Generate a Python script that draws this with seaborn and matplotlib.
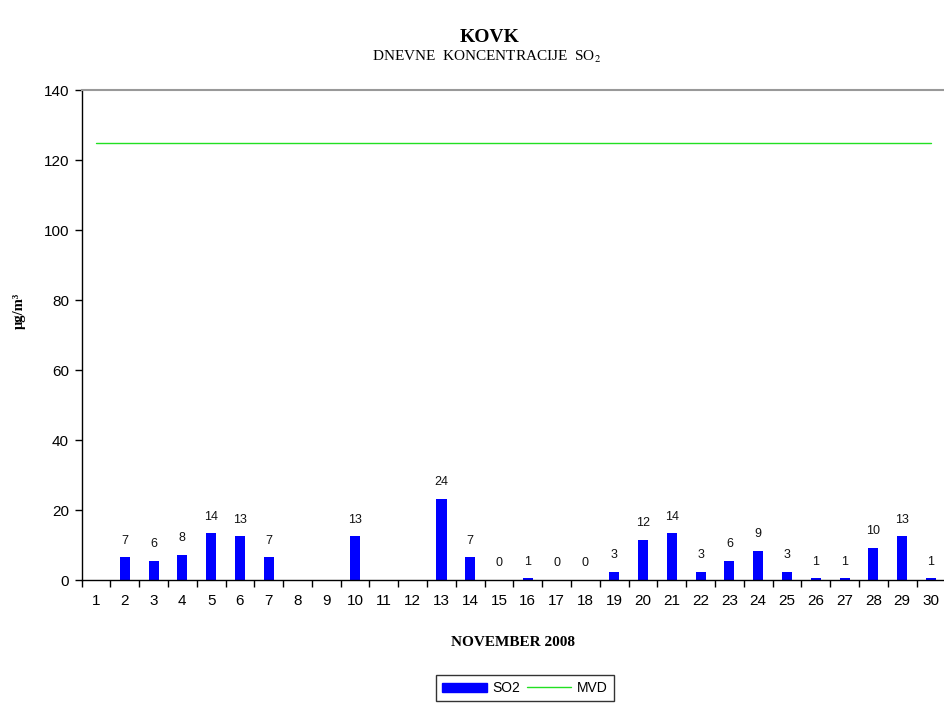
import numpy as np
import pandas as pd
import matplotlib
matplotlib.use("Agg")
import matplotlib.pyplot as plt
import seaborn as sns
from matplotlib.patches import Patch
from matplotlib.lines import Line2D

days = [str(d) for d in range(1, 31)]
so2 = [np.nan, 6.5, 5.5, 7.3, 13.4, 12.5, 6.5, np.nan, np.nan, 12.5,
       np.nan, np.nan, 23.3, 6.5, 0.0, 0.5, 0.0, 0.0, 2.3, 11.5,
       13.4, 2.3, 5.5, 8.3, 2.3, 0.5, 0.5, 9.2, 12.5, 0.5]
bar_labels = ["", "7", "6", "8", "14", "13", "7", "", "", "13",
              "", "", "24", "7", "0", "1", "0", "0", "3", "12",
              "14", "3", "6", "9", "3", "1", "1", "10", "13", "1"]
mvd_value = 125
mvd = [mvd_value] * len(days)
yticks = [0, 20, 40, 60, 80, 100, 120, 140]

sns.set_theme(style="white")
plt.rcParams['font.family'] = ['Liberation Sans', 'DejaVu Sans']
plt.rcParams['mathtext.fontset'] = 'stix'
plt.rcParams['text.color'] = 'black'
plt.rcParams['axes.labelcolor'] = 'black'
plt.rcParams['xtick.color'] = 'black'
plt.rcParams['ytick.color'] = 'black'

fig = plt.figure(figsize=(9.44, 7.04), dpi=100)
ax = fig.add_axes([0.0864, 0.176, 0.915, 0.696])

df = pd.DataFrame({"day": days, "SO2": so2})
sns.barplot(data=df, x="day", y="SO2", order=days, color="#0000FF",
            saturation=1, width=0.35, ax=ax, edgecolor="#0000FF", linewidth=0)
ax.plot(range(len(days)), mvd, color="#22E022", lw=1.0)

for i, (v, t) in enumerate(zip(so2, bar_labels)):
    if t:
        base = 0 if np.isnan(v) else v
        ax.annotate(t, (i, base), xytext=(0, 12), textcoords="offset points",
                    ha="center", va="center", fontsize=9, color="#111111")

ax.set_xlim(-0.5, 29.5)
ax.set_ylim(0, 140)
ax.set_yticks(yticks)
ax.set_yticklabels([str(y) for y in yticks], fontsize=11)
ax.set_xticks(range(len(days)))
ax.set_xticklabels(days, fontsize=11)
ax.set_xticks(np.arange(-0.5, 30, 1), minor=True)
ax.tick_params(axis="x", which="major", length=0, pad=10)
ax.tick_params(axis="x", which="minor", length=5, width=1, color="black", direction="out", bottom=True)
ax.tick_params(axis="y", which="major", length=5, width=1, color="black", direction="out", left=True, pad=4)

for s in ["left", "bottom"]:
    ax.spines[s].set_color("black")
    ax.spines[s].set_linewidth(1)
ax.spines["top"].set_color("#999999")
ax.spines["top"].set_linewidth(1.5)
ax.spines["right"].set_visible(False)

ax.set_xlabel("NOVEMBER 2008", fontsize=11, fontweight="bold", family="Liberation Serif", labelpad=20)
ax.set_ylabel("μg/m³", fontsize=10.5, fontweight="bold", family="Liberation Serif")
ax.yaxis.set_label_coords(-0.064, 0.55)

fig.text(0.519, 1 - 37 / 704, "KOVK", ha="center", va="center", fontsize=14,
         fontweight="bold", family="Liberation Serif")
fig.text(0.516, 1 - 57 / 704, "DNEVNE  KONCENTRACIJE  SO$_2$", ha="center", va="center",
         fontsize=11, family="Liberation Serif")

handles = [Patch(facecolor="#0000FF", edgecolor="#0000FF"),
           Line2D([0], [0], color="#22E022", lw=1)]
leg = fig.legend(handles, ["SO2", "MVD"], loc="center", bbox_to_anchor=(0.556, 1 - 688 / 704),
                 ncol=2, frameon=True, fancybox=False, fontsize=10, handlelength=3.2,
                 handleheight=0.6, columnspacing=0.5, handletextpad=0.4, borderpad=0.45)
leg.get_frame().set_edgecolor("black")
leg.get_frame().set_linewidth(1)

fig.savefig("out.png", dpi=100)
